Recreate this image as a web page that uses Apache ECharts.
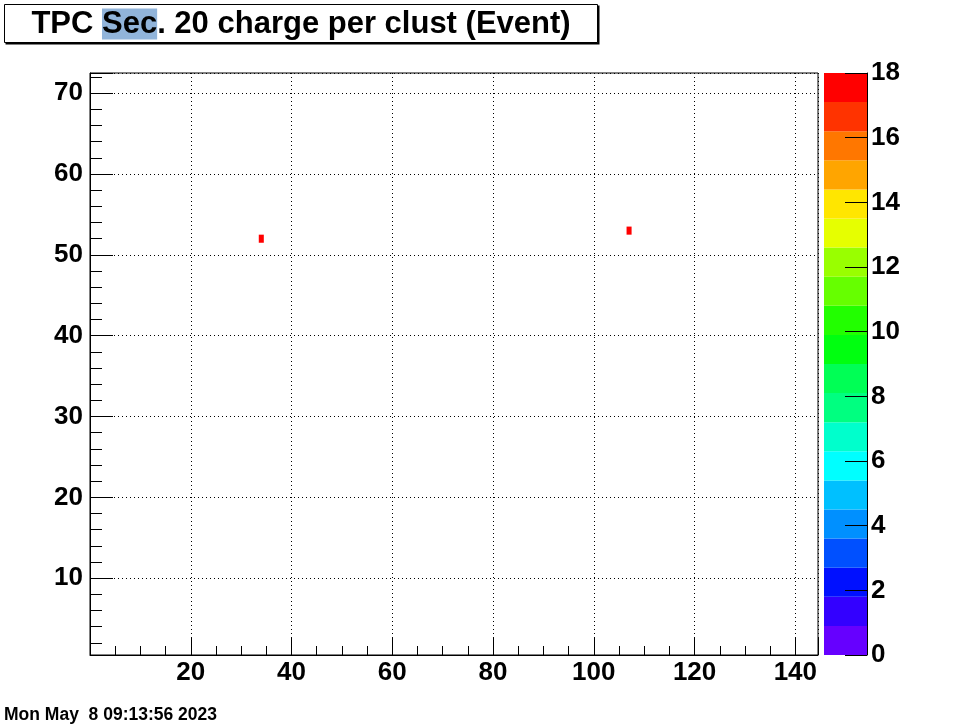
<!DOCTYPE html>
<html><head><meta charset="utf-8">
<script src="https://cdn.jsdelivr.net/npm/echarts@6/dist/echarts.min.js"></script>
<style>html,body{margin:0;padding:0;background:#fff}#c{width:967px;height:727px}</style>
</head><body><div id="c"></div>
<script>
// ---- data ----
const titleText = 'TPC {sel|Sec}. 20 charge per clust (Event)';
const dateText = 'Mon May  8 09:13:56 2023';
const cellX = [34, 107];
const cellY = [52, 53];
const cellZ = [18, 18];
const zLevels = [0, 0.9, 1.8, 2.7, 3.6, 4.5, 5.4, 6.3, 7.2, 8.1, 9, 9.9, 10.8, 11.7, 12.6, 13.5, 14.4, 15.3, 16.2, 17.1, 18];
const zColors = ['#6600ff', '#3300ff', '#0010ff', '#0050ff', '#0090ff', '#00c0ff', '#00ffff', '#00ffcc', '#00ff80', '#00ff55',
                 '#00ff10', '#22ff00', '#66ff00', '#99ff00', '#e6ff00', '#ffe600', '#ffa500', '#ff7700', '#ff3300', '#ff0000'];
const xRange = [0, 144.5];
const yRange = [0.5, 72.5];
const zRange = [0, 18];

// ---- build ----
const FONT = "'Liberation Sans', Arial, Helvetica, sans-serif";
const cells = cellX.map((x, i) => [x, cellY[i], cellZ[i]]);
const bands = zColors.map((c, i) => [zLevels[i], zLevels[i + 1], i]);
const pieces = zColors.map((c, i) => (i === zColors.length - 1
  ? { gte: zLevels[i], lte: zLevels[i + 1], color: c }
  : { gte: zLevels[i], lt: zLevels[i + 1], color: c }));

const labelStyle = { color: '#000', fontFamily: FONT, fontWeight: 'bold', fontSize: 26 };
const dotted = { show: true, lineStyle: { color: '#000', width: 1, type: [1, 3] } };

const chart = echarts.init(document.getElementById('c'), null, { renderer: 'canvas' });
chart.setOption({
  animation: false,
  backgroundColor: '#fff',
  grid: [
    { left: 90, top: 73, width: 728, height: 582, show: true, borderColor: '#000', borderWidth: 1, backgroundColor: 'transparent', containLabel: false, outerBoundsMode: 'none' },
    { left: 824, top: 73, width: 43, height: 582, show: false, containLabel: false, outerBoundsMode: 'none' }
  ],
  xAxis: [
    {
      type: 'value', gridIndex: 0, min: xRange[0], max: xRange[1],
      minInterval: 20, maxInterval: 20, splitNumber: 7,
      axisLine: { show: true, onZero: false, lineStyle: { color: '#000', width: 1 } },
      axisTick: { show: true, inside: true, length: 18, lineStyle: { color: '#000', width: 1 } },
      minorTick: { show: true, splitNumber: 4, length: 9, lineStyle: { color: '#000', width: 1 } },
      splitLine: dotted,
      axisLabel: Object.assign({ margin: 5, showMinLabel: false, showMaxLabel: false, hideOverlap: false }, labelStyle)
    },
    { type: 'value', gridIndex: 1, min: 0, max: 1, show: false }
  ],
  yAxis: [
    {
      type: 'value', gridIndex: 0, min: yRange[0], max: yRange[1],
      minInterval: 10, maxInterval: 10, splitNumber: 7,
      axisLine: { show: true, onZero: false, lineStyle: { color: '#000', width: 1 } },
      axisTick: { show: true, inside: true, length: 23, lineStyle: { color: '#000', width: 1 } },
      minorTick: { show: true, splitNumber: 5, length: 12, lineStyle: { color: '#000', width: 1 } },
      splitLine: dotted,
      axisLabel: Object.assign({ margin: 7, showMinLabel: false, showMaxLabel: false, hideOverlap: false }, labelStyle)
    },
    {
      type: 'value', gridIndex: 1, position: 'right', min: zRange[0], max: zRange[1], interval: 2, z: 20,
      axisLine: { show: true, onZero: false, lineStyle: { color: '#000', width: 1 } },
      axisTick: { show: true, inside: true, length: 22, lineStyle: { color: '#000', width: 1 } },
      splitLine: { show: false },
      axisLabel: Object.assign({ margin: 4, hideOverlap: false }, labelStyle)
    }
  ],
  visualMap: {
    type: 'piecewise', show: false, seriesIndex: 0, dimension: 2, pieces: pieces
  },
  series: [
    {
      type: 'custom', xAxisIndex: 0, yAxisIndex: 0, data: cells, z: 5,
      encode: { x: 0, y: 1 },
      renderItem: function (params, api) {
        const x = api.value(0), y = api.value(1);
        const p1 = api.coord([x - 0.5, y + 0.5]);
        const p2 = api.coord([x + 0.5, y - 0.5]);
        return { type: 'rect', shape: { x: p1[0], y: p1[1], width: p2[0] - p1[0], height: p2[1] - p1[1] },
                 style: { fill: api.visual('color') } };
      }
    },
    {
      type: 'custom', xAxisIndex: 1, yAxisIndex: 1, data: bands, z: 1,
      encode: { y: [0, 1] },
      renderItem: function (params, api) {
        const lo = api.value(0), hi = api.value(1), ci = api.value(2);
        const p1 = api.coord([0, hi]);
        const p2 = api.coord([1, lo]);
        return { type: 'rect', shape: { x: p1[0], y: p1[1], width: p2[0] - p1[0], height: p2[1] - p1[1] },
                 style: { fill: zColors[ci] } };
      }
    }
  ],
  graphic: [
    { type: 'rect', z: 10, shape: { x: 5.5, y: 5.5, width: 594, height: 39 }, style: { fill: '#000' } },
    { type: 'rect', z: 11, shape: { x: 4.5, y: 4.5, width: 593, height: 38 }, style: { fill: '#fff', stroke: '#000', lineWidth: 1 } },
    {
      type: 'text', z: 12, x: 301, y: 24,
      style: {
        text: titleText, align: 'center', verticalAlign: 'middle',
        fontFamily: FONT, fontWeight: 'bold', fontSize: 31, fill: '#000',
        rich: {
          sel: { fontFamily: FONT, fontWeight: 'bold', fontSize: 31, color: '#2f5f96', backgroundColor: '#91b4da', lineHeight: 31 }
        }
      }
    },
    {
      type: 'text', z: 12, x: 4, y: 715,
      style: { text: dateText, align: 'left', verticalAlign: 'middle', fontFamily: FONT, fontWeight: 'bold', fontSize: 17.5, fill: '#000' }
    }
  ]
});
</script>
</body></html>
